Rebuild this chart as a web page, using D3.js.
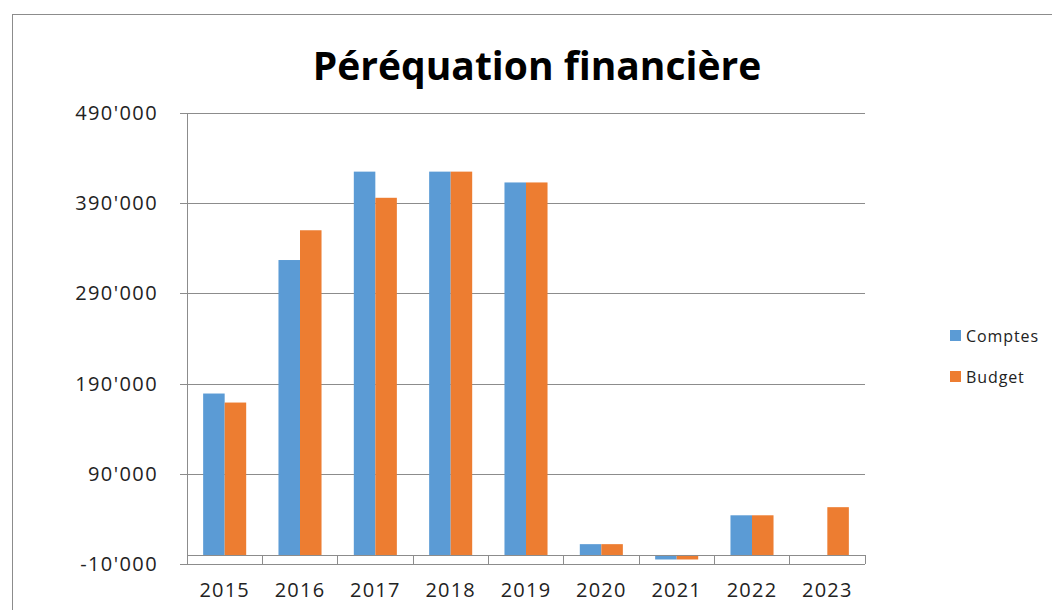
<!DOCTYPE html>
<head>
  <title>Péréquation financière</title>
  <meta charset="utf-8">
  <style>
    body {margin: 0; background: #fff; font-family: "Open Sans", sans-serif;}
    .grid line {stroke: #8c8c8c; stroke-width: 1; shape-rendering: crispEdges;}
    .axis path, .axis line {fill: none; stroke: #8c8c8c; stroke-width: 1; shape-rendering: crispEdges;}
  </style>
</head>
<body>
  <svg width="1052" height="610"></svg>
  <script src="https://d3js.org/d3.v7.min.js"></script>
  <script>
    // data
    var years = ["2015", "2016", "2017", "2018", "2019", "2020", "2021", "2022", "2023"];
    var comptes = [179000, 327000, 425000, 425000, 413000, 12000, -5000, 44000, null];
    var budget  = [169000, 360000, 396000, 425000, 413000, 12000, -5000, 44000, 53000];
    var seriesNames = ["Comptes", "Budget"];
    var colors = ["#5b9bd5", "#ed7d31"];
    var yTicks = [-10000, 90000, 190000, 290000, 390000, 490000];

    var svg = d3.select("svg"),
        margin = {top: 113, left: 187, right: 187, bottom: 46},
        width = 865 - margin.left,
        height = 564 - margin.top;

    // outer chart frame
    svg.append("rect")
        .attr("x", 12.5).attr("y", 14.5)
        .attr("width", 1060).attr("height", 620)
        .attr("fill", "none").attr("stroke", "#8c8c8c");

    svg.append("text")
        .attr("x", 537).attr("y", 80)
        .attr("text-anchor", "middle")
        .attr("font-family", "Open Sans")
        .attr("font-weight", "bold")
        .attr("font-size", 39)
        .text("Péréquation financière");

    var graph = svg.append("g").attr("transform", "translate(" + margin.left + "," + margin.top + ")");

    var x0 = d3.scaleBand().domain(years).range([0, width]).padding(0);
    var step = x0.bandwidth();
    var bw = step / 3.5;
    var x1 = d3.scaleBand().domain(seriesNames).range([(step - 2 * bw) / 2, (step + 2 * bw) / 2]);
    var y = d3.scaleLinear().domain([-10000, 490000]).range([height, 0]);

    var fmt = d3.formatLocale({decimal: ".", thousands: "'", grouping: [3], currency: ["", ""], minus: "-"}).format(",");

    // gridlines
    graph.append("g")
        .attr("class", "grid")
        .call(d3.axisLeft(y).tickValues(yTicks).tickSize(-width).tickFormat(""))
        .call(function(g) { g.select(".domain").remove(); });

    // y axis
    var yAxis = graph.append("g")
        .attr("class", "axis")
        .call(d3.axisLeft(y).tickValues(yTicks).tickSize(7).tickSizeOuter(0).tickPadding(22).tickFormat(fmt));
    yAxis.selectAll("text")
        .attr("font-family", "Open Sans")
        .attr("font-size", 20)
        .attr("letter-spacing", 1.4)
        .attr("fill", "#222");

    // bars
    var rows = years.map(function(yr, i) { return {year: yr, values: [comptes[i], budget[i]]}; });
    var group = graph.selectAll(".year")
        .data(rows)
        .enter().append("g")
          .attr("transform", function(d) { return "translate(" + x0(d.year) + ",0)"; });

    group.selectAll("rect")
        .data(function(d) { return d.values.map(function(v, j) { return {key: seriesNames[j], value: v, c: colors[j]}; }).filter(function(d) { return d.value != null; }); })
        .enter().append("rect")
          .attr("x", function(d) { return x1(d.key); })
          .attr("width", x1.bandwidth())
          .attr("y", function(d) { return y(Math.max(0, d.value)); })
          .attr("height", function(d) { return Math.abs(y(d.value) - y(0)); })
          .attr("fill", function(d) { return d.c; });

    // category axis at zero, ticks reaching down to the bottom gridline
    var xAxis = graph.append("g")
        .attr("class", "axis")
        .attr("transform", "translate(0," + y(0) + ")");
    xAxis.append("line")
        .attr("x1", 0).attr("x2", width).attr("y1", 0.5).attr("y2", 0.5);
    xAxis.selectAll(".bound")
        .data(years.concat(["end"]))
        .enter().append("line")
          .attr("x1", function(d, i) { return i * step; })
          .attr("x2", function(d, i) { return i * step; })
          .attr("y1", 0).attr("y2", y(-10000) - y(0));
    xAxis.selectAll(".lbl")
        .data(years)
        .enter().append("text")
          .attr("x", function(d) { return x0(d) + step / 2; })
          .attr("y", 42)
          .attr("text-anchor", "middle")
          .attr("font-family", "Open Sans")
          .attr("font-size", 20)
          .attr("letter-spacing", 1.2)
          .attr("fill", "#222")
          .text(function(d) { return d; });

    // legend
    var legend = svg.append("g")
        .selectAll("g")
        .data(seriesNames)
        .enter().append("g")
          .attr("transform", function(d, i) { return "translate(950," + (330 + i * 41) + ")"; });
    legend.append("rect")
        .attr("width", 11).attr("height", 11)
        .attr("fill", function(d, i) { return colors[i]; });
    legend.append("text")
        .attr("x", 16).attr("y", 12)
        .attr("font-family", "Open Sans")
        .attr("font-size", 16)
        .attr("letter-spacing", 0.9)
        .attr("fill", "#222")
        .text(function(d) { return d; });
  </script>
</body>
